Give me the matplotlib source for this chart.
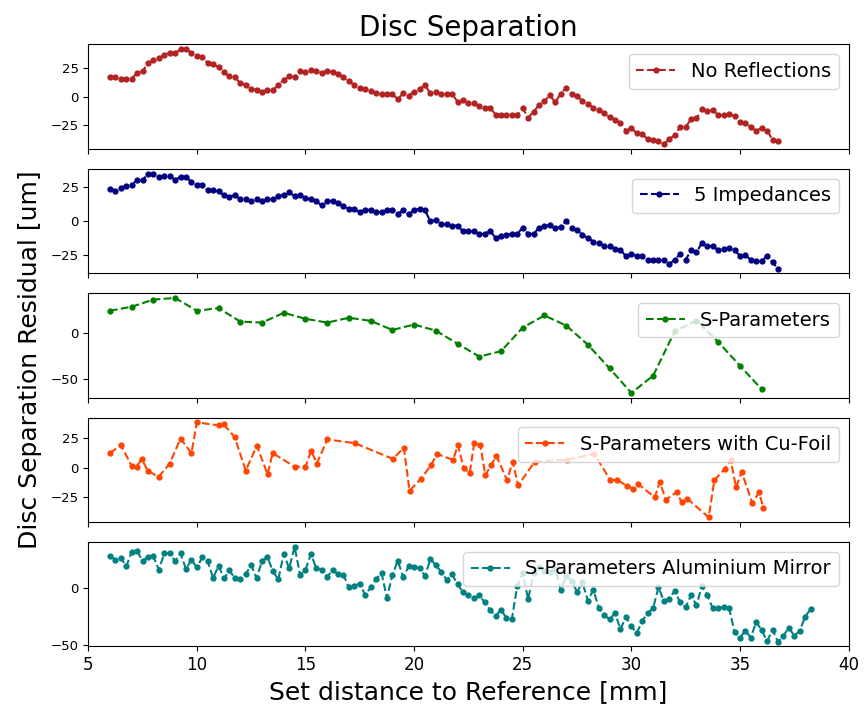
import numpy as np
import matplotlib
matplotlib.use("Agg")
from matplotlib import pyplot as plt

# sampling grid of the dense scans (0.25 mm steps)
x_noref = np.arange(6.0, 36.76, 0.25)
x_imp = np.arange(6.0, 36.76, 0.25)
x_alu = np.arange(6.0, 38.26, 0.25)
x_spar = np.arange(6, 37, 1)

y_noref = [17.5, 17.5, 16, 16, 16, 21, 22.5, 29.5, 32, 34, 37, 39, 38.5, 42, 42, 39,
           36, 35, 30, 29, 26, 21.5, 18, 17, 12, 10.5, 7, 6, 4, 6, 6, 10,
           15, 18, 17.5, 22.5, 22, 24, 22.5, 21, 23, 22, 20, 17, 13.5, 10.5, 8, 6.5,
           5, 3.5, 2, 2, 2, -2, 3, 1, 4.5, 7, 10, 3, 4.5, 2.5,
           2.5, 2.5, -4.5, -3.3, -5.4, -5.4, -8.6, -9.8, -9.8, -15.8, -15.8, -15.8, -15.8, -15.8,
           -10.4, -18.5, -13.4, -7.4, -3.9, 1.2, -5, 2.7, 8, 2, 0.9, -3.9, -6.8, -9.8, -11.9, -14.6,
           -18.2, -20.5, -22.9, -30, -27.7, -32.4, -33, -37.5, -38.4, -39, -42, -37.2, -34.2, -26.5, -27, -19.6,
           -19, -11.3, -12.8, -12.2, -15.8, -16.4, -15.2, -17.3, -22.6, -22.9, -27, -30, -27.7, -30, -38, -39.6]

y_imp = [23.8, 22, 24.5, 25.7, 26.7, 29.9, 29.9, 34.8, 34.8, 32.4, 33.3, 33.3, 30.1, 32.6, 32.1, 28.9,
         26.7, 26.7, 22.5, 22.5, 21.8, 18.9, 17.9, 18.9, 15.9, 15.9, 14.5, 16.2, 14.5, 16.2, 16.2, 18.1,
         19.4, 21.3, 18.1, 18.9, 16.7, 15.9, 14.5, 11.5, 14.5, 15, 13.2, 11, 9.1, 9.1, 6.6, 8.3,
         8.3, 6.6, 6.6, 8.1, 8.1, 5.6, 8.1, 5.1, 8.1, 9.1, 8.1, -0.2, 1, -2.2,
         -2.2, -3.2, -3.2, -7.4, -7.4, -7.4, -9.3, -9.3, -6.9, -12.3, -10.5, -9.8, -9.3, -9.3,
         -4.7, -9.3, -9.3, -4.7, -3.7, -2.7, -4.7, -4.2, 0.2, -4.7, -6.4, -9.8, -12.3, -14.9, -15.9, -17.9,
         -18.4, -20.3, -20.8, -25.7, -23.8, -25.5, -25.7, -28.7, -28.7, -28.7, -28.7, -31.1, -28.2, -23.8, -28.2, -21.3,
         -22.8, -15.7, -18.4, -17.9, -21.3, -20.3, -19.9, -21.3, -25.2, -24.8, -28.2, -29.2, -29.2, -25.2, -30.1, -34.6]

y_spar = [23.7, 28.1, 35.8, 37.6, 23.7, 26.6, 12, 10.9, 21.5, 15, 10.9, 16.1, 12.8, 2.9, 8.8, 2.2,
          -12, -25.9, -20.1, 5.5, 18.6, 7.7, -13.1, -38.7, -65.3, -46.7, 1.5, 13.1, -10.2, -35.8, -61.3]

x_cu = [6.0, 6.5, 7.0, 7.23, 7.46, 7.73, 8.24, 8.75, 9.25, 9.75, 10.0, 11.0, 11.24, 11.74, 12.25, 12.76,
        13.26, 13.49, 14.5, 15.0, 15.26, 15.52, 16.01, 17.27, 19.02, 19.53, 19.79, 20.3, 20.8, 21.05, 21.79, 22.02,
        22.28, 22.56, 22.77, 23.05, 23.28, 23.56, 23.79, 24.28, 24.54, 24.79, 25.55, 27.06, 28.29, 29.04, 29.32, 29.81,
        30.08, 30.33, 31.08, 31.31, 31.59, 32.08, 32.31, 32.57, 33.56, 33.82, 34.32, 34.57, 34.82, 35.08, 35.57, 35.88, 36.08]
y_cu = [12.1, 19, 1.4, 0.8, 7.3, -2.5, -7.9, 3.4, 24.4, 12.1, 38, 35.4, 36.2, 25.6, -2.5, 18.3,
        -5.6, 12.1, 0.8, 0.8, 14.3, 3.4, 23.6, 20.5, 7.3, 16.6, -19.4, -9.8, 2.5, 11.5, 6.5, 18.8,
        -0.3, -4.5, 20.8, 18.8, -6.5, 2.5, 9.8, -10.7, 4.8, -14.9, 4.8, 6.7, 11.5, -10.7, -10.1, -15.4,
        -17.7, -14.0, -25, -12.1, -27, -20.5, -28.9, -26.1, -41.8, -10.7, -0.8, 6.7, -16.6, -3.7, -29.8, -20.8, -34]

y_alu = [28.7, 25.1, 26.9, 19.2, 32.2, 33.1, 24, 27.8, 28.1, 16.3, 30.8, 30.8, 24, 30.8, 16.9, 25.1,
         18.3, 27.2, 23.7, 8.9, 19.8, 8.6, 15.7, 8.6, 7.7, 12.4, 20.4, 8.9, 24, 27.8, 14.8, 7.7,
         30.5, 17.5, 36.7, 11.8, 16, 30.2, 17.5, 16.3, 10.1, 16, 12.4, 11.5, 0.6, 2.1, 4.1, -6.2,
         0.6, 8, 13.3, -8.6, 11.5, 24.3, 9.8, 19.2, 18.3, 18, 10.7, 25.7, 20.4, 14.5, 7.4, 12.1,
         3.6, -3.8, -6.2, -8.6, -6.2, -12.7, -19.2, -24.6, -19.2, -26.3, -27.5, 2.1, 13.3, -9.8, 13.3, 18.3,
         15.4, 13.9, 16.9, -1.8, 10.9, 6.5, -3.3, 5, -11.2, -1.5, -17.2, -24, -27.5, -22.2, -36.4, -25.4,
         -34, -39.9, -29, -22.2, -18, 0.6, -11.5, -9.2, -2.4, -12.7, -16.9, -6.2, -15.1, 2.1, -6.2, -18,
         -17.5, -16.9, -17.8, -38.8, -43.8, -37.9, -43.8, -29.9, -37.3, -47, -37, -47.5, -42.3, -34.9, -42.3, -37.9,
         -25.4, -18.6]

series = [
    (x_noref, y_noref, 'firebrick', 'No Reflections', [-25, 0, 25]),
    (x_imp, y_imp, 'navy', '5 Impedances', [-25, 0, 25]),
    (x_spar, y_spar, 'green', 'S-Parameters', [-50, 0]),
    (x_cu, y_cu, 'orangered', 'S-Parameters with Cu-Foil', [-25, 0, 25]),
    (x_alu, y_alu, 'teal', 'S-Parameters Aluminium Mirror', [-50, 0]),
]

fig, axes = plt.subplots(5, 1, sharex=True, figsize=(8.65, 7.05), dpi=100)
plt.subplots_adjust(left=0.102, right=0.981, top=0.937, bottom=0.083, hspace=0.19)

for ax, (xs, ys, col, lab, yt) in zip(axes, series):
    ax.plot(xs, ys, '--.', color=col, label=lab, markersize=7)
    ax.set_yticks(yt)
    ax.tick_params(axis='y', labelsize=9.5)
    ax.legend(loc='upper right', fontsize=14)

axes[0].set_title('Disc Separation', fontsize=20)
axes[-1].set_xlim(5, 40)
axes[-1].tick_params(axis='x', labelsize=12)
axes[-1].set_xlabel('Set distance to Reference [mm]', fontsize=18)
fig.text(0.035, 0.49, 'Disc Separation Residual [um]', rotation=90,
         fontsize=18, ha='center', va='center')

plt.savefig('out.png')
